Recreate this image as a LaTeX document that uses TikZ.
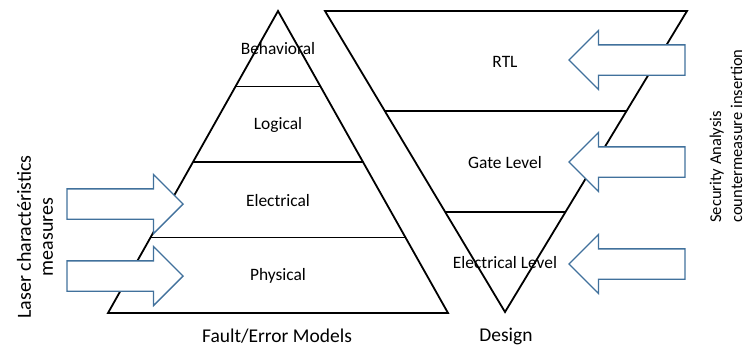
\documentclass[tikz,border=0pt]{standalone}
\usepackage{fontspec}
\setmainfont{Carlito}
\usetikzlibrary{calc,shapes.arrows}
\definecolor{arrowblue}{HTML}{41719C}
\begin{document}
\begin{tikzpicture}[x=1pt,y=-1pt,
	edge/.style={line width=1.8pt,line join=miter},
	lbl/.style={font=\fontsize{17.4}{20}\selectfont,inner sep=0},
	caption/.style={font=\fontsize{19.5}{23}\selectfont,inner sep=0},
	side/.style={rotate=90,align=center,inner sep=0},
	blockarrow/.style={single arrow,draw=arrowblue,line width=1.3pt,fill=white,
		minimum height=116pt,inner xsep=0pt,inner ysep=14.5pt,anchor=tip,
		single arrow head extend=14.5pt,single arrow tip angle=90}]
\useasboundingbox (0,0) rectangle (746,349);
% fault/error models
\coordinate (fa) at (278,11);
\coordinate (fl) at (108,313);
\coordinate (fr) at (448,313);
\draw[edge] (fa) -- (fr) -- (fl) -- cycle;
\foreach \f in {0.25,0.5,0.75}
	\draw[edge] ($(fa)!\f!(fl)$) -- ($(fa)!\f!(fr)$);
% design
\coordinate (dl) at (325,11);
\coordinate (dr) at (687,11);
\coordinate (da) at (505,312);
\draw[edge] (dl) -- (dr) -- (da) -- cycle;
\foreach \f in {0.333,0.667}
	\draw[edge] ($(da)!\f!(dl)$) -- ($(da)!\f!(dr)$);
% levels
\node[lbl] (behav) at (278,49) {Behavioral};
\node[lbl] (logic) at (278,125) {Logical};
\node[lbl] (elec) at (278,201) {Electrical};
\node[lbl] (phys) at (278,276) {Physical};
\node[lbl] (rtl) at (505,62) {RTL};
\node[lbl] (gate) at (505,163) {Gate Level};
\node[lbl] (eleclvl) at (505,263) {Electrical Level};
\node[caption] (fault) at (277,336) {Fault/Error Models};
\node[caption] (design) at (506,336) {Design};
% block arrows
\node[blockarrow] (laser1) at (184,204) {};
\node[blockarrow] (laser2) at (184,276) {};
\node[blockarrow,shape border rotate=180] (secu1) at (568,60) {};
\node[blockarrow,shape border rotate=180] (secu2) at (568,162) {};
\node[blockarrow,shape border rotate=180] (secu3) at (568,264) {};
% side texts
\node[side,font=\fontsize{20}{22}\selectfont] (laser) at (35,237) {Laser charactéristics\\measures};
\node[side,align=left,font=\fontsize{16.5}{21}\selectfont] (secu) at (726,136) {Security Analysis\\countermeasure insertion};
\end{tikzpicture}
\end{document}
